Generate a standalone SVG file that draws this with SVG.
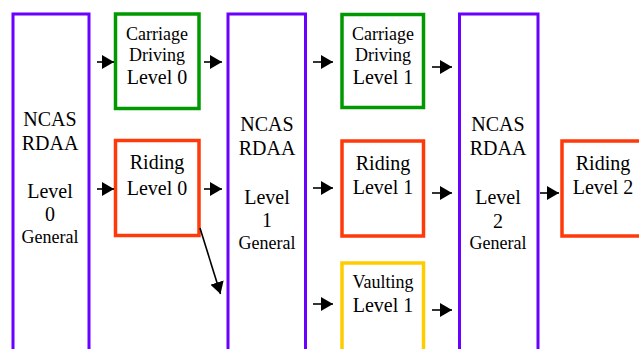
<svg xmlns="http://www.w3.org/2000/svg" width="639" height="349" viewBox="0 0 639 349" font-family="'Liberation Serif', 'Times New Roman', serif">
<style>
.col{fill:#fff;stroke:#6a00ff;stroke-width:3}
.cd{fill:#fff;stroke:#009a00;stroke-width:3.5}
.rd{fill:#fff;stroke:#ff3a0a;stroke-width:3.5}
.vt{fill:#fff;stroke:#ffcc00;stroke-width:3.5}
text{fill:#000;text-anchor:middle}
.t20{font-size:20px}
.t18{font-size:18px}
.ar{stroke:#000;stroke-width:1.6;fill:none;marker-end:url(#ah)}
</style>
<defs>
<marker id="ah" markerUnits="userSpaceOnUse" markerWidth="14" markerHeight="14" refX="12" refY="7" orient="auto">
<path d="M0,0 L12,7 L0,14 Z" fill="#000"/>
</marker>
</defs>
<rect width="639" height="349" fill="#fff"/>
<g id="col0">
<rect class="col" x="13" y="14" width="76" height="350"/>
<text class="t20" x="50" y="126">NCAS</text>
<text class="t20" x="50" y="150">RDAA</text>
<text class="t20" x="50" y="198">Level</text>
<text class="t20" x="50" y="221">0</text>
<text class="t18" x="50" y="243">General</text>
</g>
<g id="cd0">
<rect class="cd" x="115.5" y="14" width="83.5" height="94.5"/>
<text class="t18" x="157" y="40">Carriage</text>
<text class="t18" x="157" y="60.5">Driving</text>
<text class="t20" x="157" y="84">Level 0</text>
</g>
<g id="rd0">
<rect class="rd" x="115.5" y="140.5" width="83.5" height="95"/>
<text class="t20" x="157" y="169">Riding</text>
<text class="t20" x="157" y="195">Level 0</text>
</g>
<g id="col1">
<rect class="col" x="228" y="14" width="77.5" height="350"/>
<text class="t20" x="267" y="131">NCAS</text>
<text class="t20" x="267" y="155">RDAA</text>
<text class="t20" x="267" y="204">Level</text>
<text class="t20" x="267" y="227">1</text>
<text class="t18" x="267" y="249">General</text>
</g>
<g id="cd1">
<rect class="cd" x="342" y="14.5" width="81.5" height="93"/>
<text class="t18" x="383" y="40">Carriage</text>
<text class="t18" x="383" y="60.5">Driving</text>
<text class="t20" x="383" y="83.5">Level 1</text>
</g>
<g id="rd1">
<rect class="rd" x="342" y="141" width="81.5" height="95"/>
<text class="t20" x="383" y="170">Riding</text>
<text class="t20" x="383" y="194">Level 1</text>
</g>
<g id="vt1">
<rect class="vt" x="342" y="263" width="81.5" height="100"/>
<text class="t18" x="383" y="288">Vaulting</text>
<text class="t20" x="383" y="312">Level 1</text>
</g>
<g id="col2">
<rect class="col" x="459.5" y="14" width="78.5" height="350"/>
<text class="t20" x="498" y="131">NCAS</text>
<text class="t20" x="498" y="155">RDAA</text>
<text class="t20" x="498" y="204">Level</text>
<text class="t20" x="498" y="228">2</text>
<text class="t18" x="498" y="249">General</text>
</g>
<g id="rd2">
<rect class="rd" x="562" y="141" width="90" height="95"/>
<text class="t20" x="603" y="170">Riding</text>
<text class="t20" x="603" y="194">Level 2</text>
</g>
<g id="connectors">
<line class="ar" x1="97" y1="62" x2="114" y2="62"/>
<line class="ar" x1="97" y1="189" x2="114" y2="189"/>
<line class="ar" x1="204" y1="62" x2="222" y2="62"/>
<line class="ar" x1="204" y1="189" x2="222" y2="189"/>
<line class="ar" x1="200" y1="228" x2="220.5" y2="294"/>
<line class="ar" x1="313" y1="62" x2="333" y2="62"/>
<line class="ar" x1="313" y1="188" x2="333" y2="188"/>
<line class="ar" x1="313" y1="304" x2="333" y2="304"/>
<line class="ar" x1="432" y1="67" x2="452" y2="67"/>
<line class="ar" x1="432" y1="193" x2="452" y2="193"/>
<line class="ar" x1="432" y1="310" x2="452" y2="310"/>
<line class="ar" x1="540" y1="193" x2="559" y2="193"/>
</g>
</svg>
